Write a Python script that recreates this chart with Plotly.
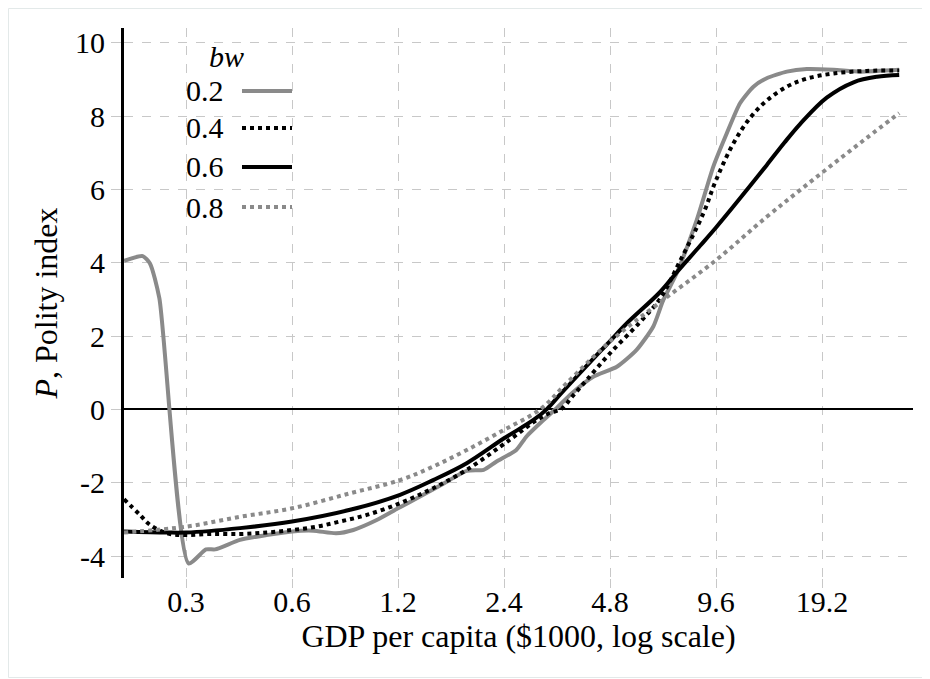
import plotly.graph_objects as go

# ---- data ----
x_bw02 = [0.2, 0.226, 0.237, 0.252, 0.305, 0.342, 0.363, 0.427, 0.508, 0.6, 0.69, 0.8, 0.896,
          1.044, 1.2, 1.386, 1.6, 1.88, 2.1, 2.28, 2.6, 2.78, 3.1, 3.4, 3.7, 4.3, 5.02, 5.71,
          6.37, 6.8, 7.42, 8.46, 9.43, 10.3, 11.23, 12.26, 13.37, 15.25, 17.38, 20.7, 24.6, 31.8]
y_bw02 = [4.05, 4.18, 3.98, 3.03, -4.2, -3.82, -3.82, -3.56, -3.43, -3.33, -3.31, -3.38, -3.29,
          -3.02, -2.70, -2.38, -2.05, -1.68, -1.65, -1.43, -1.11, -0.74, -0.30, 0.05, 0.40, 0.89, 1.16, 1.62,
          2.26, 2.98, 3.71, 5.16, 6.62, 7.53, 8.35, 8.80, 9.03, 9.21, 9.28, 9.26, 9.21, 9.26]

x_bw04 = [0.2, 0.222, 0.237, 0.2645, 0.3, 0.351, 0.427, 0.508, 0.6, 0.705, 0.821, 0.978, 1.216,
          1.51, 1.88, 2.34, 2.6, 2.91, 3.2, 3.5, 3.75, 4.12, 4.8, 5.84, 6.66, 7.59, 8.84, 9.6,
          10.75, 12.0, 13.37, 15.25, 17.38, 20.7, 25.7, 31.8]
y_bw04 = [-2.45, -2.88, -3.15, -3.38, -3.43, -3.40, -3.40, -3.36, -3.29, -3.20, -3.06, -2.88, -2.56,
          -2.15, -1.65, -1.02, -0.70, -0.35, -0.12, 0.02, 0.35, 0.80, 1.53, 2.38, 3.02, 4.05, 5.35, 6.25,
          7.25, 7.95, 8.42, 8.80, 9.02, 9.16, 9.23, 9.24]

x_bw06 = [0.2, 0.2645, 0.3, 0.427, 0.6, 0.877, 1.216, 1.51, 1.88, 2.4, 2.91, 3.17, 3.46, 3.78,
          4.5, 4.8, 5.35, 6.66, 7.43, 8.65, 9.6, 10.75, 12.0, 13.37, 15.0, 16.63, 19.8, 23.6, 27.5, 31.8]
y_bw06 = [-3.33, -3.36, -3.36, -3.24, -3.06, -2.74, -2.33, -1.93, -1.47, -0.79, -0.29, 0.0, 0.40, 0.80,
          1.58, 1.86, 2.34, 3.20, 3.74, 4.46, 4.96, 5.53, 6.10, 6.66, 7.27, 7.78, 8.50, 8.92, 9.07, 9.12]

x_bw08 = [0.2, 0.3, 0.427, 0.6, 0.877, 1.216, 1.51, 1.88, 2.4, 3.04, 3.62, 4.8, 6.66,
          9.6, 13.37, 16.63, 20.7, 25.7, 31.8]
y_bw08 = [-3.36, -3.20, -2.93, -2.70, -2.29, -1.93, -1.56, -1.11, -0.56, 0.0, 0.72, 1.85, 2.92,
          4.07, 5.25, 5.98, 6.70, 7.40, 8.08]

bw_labels = ["0.2", "0.4", "0.6", "0.8"]
x_tickvals = [0.3, 0.6, 1.2, 2.4, 4.8, 9.6, 19.2]
x_ticktext = ["0.3", "0.6", "1.2", "2.4", "4.8", "9.6", "19.2"]
y_tickvals = [-4, -2, 0, 2, 4, 6, 8, 10]
y_ticktext = ["-4", "-2", "0", "2", "4", "6", "8", "10"]

GRAY = "#8a8a8a"
styles = [
    dict(color=GRAY, width=4, dash="solid", smooth=0.6),
    dict(color="black", width=4, dash="dot", smooth=1.0),
    dict(color="black", width=4, dash="solid", smooth=1.0),
    dict(color=GRAY, width=4, dash="dot", smooth=1.0),
]
series = [(x_bw02, y_bw02), (x_bw04, y_bw04), (x_bw06, y_bw06), (x_bw08, y_bw08)]

FONT = "Liberation Serif, Times New Roman, serif"
fig = go.Figure()
for (xs, ys), st, lab in zip(series, styles, bw_labels):
    fig.add_trace(go.Scatter(x=xs, y=ys, mode="lines", name=lab,
                             line=dict(color=st["color"], width=st["width"], dash=st["dash"],
                                       shape="spline", smoothing=st["smooth"]),
                             showlegend=False))

# figure geometry (page body has an 8px margin)
OFF = 8
W, H = 930 - OFF, 679 - OFF
L, R, T, B = 124 - OFF, 17, 28 - OFF, 101
pw, ph = W - L - R, H - T - B


def px(sx):
    return (sx - OFF - L) / pw


def py(sy):
    return (H - B - (sy - OFF)) / ph


# manual legend (labels left of the line samples)
annotations = [dict(x=px(226), y=py(56), xref="paper", yref="paper", text="<i>bw</i>",
                    showarrow=False, xanchor="center", yanchor="middle",
                    font=dict(family=FONT, size=30, color="black"))]
shapes = []
leg_y = [91, 128, 167, 207]
for lab, st, yy in zip(bw_labels, styles, leg_y):
    annotations.append(dict(x=px(226), y=py(yy), xref="paper", yref="paper", text=lab,
                            showarrow=False, xanchor="right", yanchor="middle",
                            font=dict(family=FONT, size=30, color="black")))
    shapes.append(dict(type="line", xref="paper", yref="paper", x0=px(242), x1=px(292),
                       y0=py(yy), y1=py(yy),
                       line=dict(color=st["color"], width=st["width"], dash=st["dash"])))

# faint outer frame
shapes.append(dict(type="rect", xref="paper", yref="paper", x0=px(8.5), x1=px(928.5),
                   y0=py(677.5), y1=py(8.5), line=dict(color="#e3e9e9", width=1),
                   fillcolor="rgba(0,0,0,0)", layer="below"))

fig.update_layout(
    width=W, height=H,
    margin=dict(l=L, r=R, t=T, b=B, autoexpand=False),
    plot_bgcolor="white", paper_bgcolor="white",
    font=dict(family=FONT, size=30, color="black"),
    annotations=annotations, shapes=shapes,
    showlegend=False,
)
fig.update_xaxes(
    type="log", range=[-0.699, 1.5416],
    tickvals=x_tickvals, ticktext=x_ticktext,
    showgrid=True, gridcolor="#c8c8c8", griddash="dash", gridwidth=1,
    ticks="outside", ticklen=9, tickcolor="#c8c8c8", tickwidth=1,
    ticklabelstandoff=-12,
    showline=False, zeroline=False,
    tickfont=dict(family=FONT, size=30),
    title=dict(text="GDP per capita ($1000, log scale)", font=dict(family=FONT, size=32), standoff=4),
)
fig.update_yaxes(
    range=[-4.6, 10.4], tickvals=y_tickvals, ticktext=y_ticktext,
    showgrid=True, gridcolor="#c8c8c8", griddash="dash", gridwidth=1,
    ticks="outside", ticklen=10, tickcolor="#c8c8c8", tickwidth=1,
    showline=True, linecolor="black", linewidth=3,
    zeroline=True, zerolinecolor="black", zerolinewidth=2,
    tickfont=dict(family=FONT, size=30),
    title=dict(text="<i>P</i>, Polity index", font=dict(family=FONT, size=32), standoff=8),
)

fig.write_html("out.html")
